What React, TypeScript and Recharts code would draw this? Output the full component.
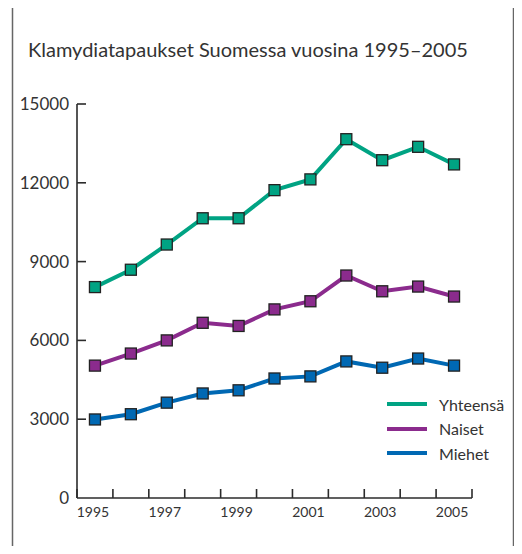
import React from 'react';
import { LineChart, Line, XAxis, YAxis, Legend } from 'recharts';

const years = [1995, 1996, 1997, 1998, 1999, 2000, 2001, 2002, 2003, 2004, 2005];
const yhteensa = [8030, 8690, 9650, 10650, 10650, 11720, 12130, 13660, 12860, 13370, 12700];
const naiset = [5040, 5500, 6000, 6670, 6550, 7180, 7490, 8470, 7870, 8050, 7670];
const miehet = [2990, 3190, 3630, 3980, 4100, 4550, 4630, 5200, 4960, 5310, 5040];
const yTicks = [0, 3000, 6000, 9000, 12000, 15000];
const xLabelYears = [1995, 1997, 1999, 2001, 2003, 2005];
const legendOrder = ['Yhteensä', 'Naiset', 'Miehet'];

const data = years.map((year, i) => ({
  year,
  yhteensa: yhteensa[i],
  naiset: naiset[i],
  miehet: miehet[i],
}));
// tick marks sit between the years
const xBounds = [...years.map((y) => y - 0.5), years[years.length - 1] + 0.5];

const FONT = 'Lato, "Open Sans", sans-serif';
const TEXT = '#333';
const AXIS = '#2b2b2b';
const GREEN = '#00a383';
const PURPLE = '#8b2b8d';
const BLUE = '#0068b3';

const PLOT_W = 395;
const BAND = PLOT_W / years.length;

const XTick = (props: any) => {
  const { x, y, payload } = props;
  const year = payload.value + 0.5;
  return (
    <g>
      <line x1={x} x2={x} y1={y} y2={y - 9} stroke={AXIS} strokeWidth={1.6} />
      {xLabelYears.includes(year) && (
        <text x={x + BAND / 2 - 2} y={y + 19} textAnchor="middle" fontSize={14} fontFamily={FONT} fill={TEXT}>
          {year}
        </text>
      )}
    </g>
  );
};

const YTick = (props: any) => {
  const { x, y, payload } = props;
  return (
    <g>
      {payload.value > 0 && <line x1={x} x2={x + 9} y1={y} y2={y} stroke={AXIS} strokeWidth={1.6} />}
      <text x={x - 8} y={y + 6} textAnchor="end" fontSize={17} fontFamily={FONT} fill={TEXT}>
        {payload.value}
      </text>
    </g>
  );
};

const squareDot = (color: string) => (props: any) => {
  const { cx, cy, index } = props;
  return (
    <rect
      key={`d-${color}-${index}`}
      x={cx - 5.5}
      y={cy - 5.5}
      width={11}
      height={11}
      fill={color}
      stroke="#222"
      strokeWidth={1.3}
    />
  );
};

const renderLegend = (props: any) => {
  const items = [...(props.payload || [])].sort(
    (a: any, b: any) => legendOrder.indexOf(a.value) - legendOrder.indexOf(b.value)
  );
  return (
    <div style={{ fontFamily: FONT, fontSize: 16, color: TEXT }}>
      {items.map((item: any) => (
        <div key={item.value} style={{ display: 'flex', alignItems: 'center', height: 24.5 }}>
          <span style={{ display: 'inline-block', width: 40, height: 4, background: item.color, marginRight: 12 }} />
          <span>{item.value}</span>
        </div>
      ))}
    </div>
  );
};

export default function App() {
  return (
    <div style={{ position: 'relative', width: 522, height: 554, margin: -8, overflow: 'hidden', background: '#fff' }}>
      <svg width={522} height={554} style={{ position: 'absolute', left: 0, top: 0 }}>
        <rect x={12.5} y={4.5} width={501} height={600} fill="none" stroke="#666" strokeWidth={1.5} />
        <text x={28} y={57} fontSize={20} fontFamily={FONT} fill={TEXT}>
          Klamydiatapaukset Suomessa vuosina 1995–2005
        </text>
      </svg>
      <div style={{ position: 'absolute', left: 0, top: 0 }}>
        <LineChart width={522} height={554} data={data} margin={{ top: 104, right: 50, bottom: 26, left: 17 }}>
          <XAxis
            dataKey="year"
            type="number"
            domain={[xBounds[0], xBounds[xBounds.length - 1]]}
            ticks={xBounds}
            interval={0}
            tick={<XTick />}
            tickLine={false}
            tickSize={0}
            tickMargin={0}
            height={30}
            axisLine={{ stroke: AXIS, strokeWidth: 1.6 }}
          />
          <YAxis
            domain={[0, 15000]}
            ticks={yTicks}
            interval={0}
            tick={<YTick />}
            tickLine={false}
            tickSize={0}
            tickMargin={0}
            width={60}
            axisLine={{ stroke: AXIS, strokeWidth: 1.6 }}
          />
          <Legend
            layout="vertical"
            align="center"
            verticalAlign="middle"
            wrapperStyle={{ left: 387, top: 392, width: 130 }}
            content={renderLegend}
          />
          <Line
            dataKey="yhteensa"
            name="Yhteensä"
            stroke={GREEN}
            strokeWidth={4}
            dot={squareDot(GREEN)}
            activeDot={false}
            isAnimationActive={false}
          />
          <Line
            dataKey="naiset"
            name="Naiset"
            stroke={PURPLE}
            strokeWidth={4}
            dot={squareDot(PURPLE)}
            activeDot={false}
            isAnimationActive={false}
          />
          <Line
            dataKey="miehet"
            name="Miehet"
            stroke={BLUE}
            strokeWidth={4}
            dot={squareDot(BLUE)}
            activeDot={false}
            isAnimationActive={false}
          />
        </LineChart>
      </div>
    </div>
  );
}
